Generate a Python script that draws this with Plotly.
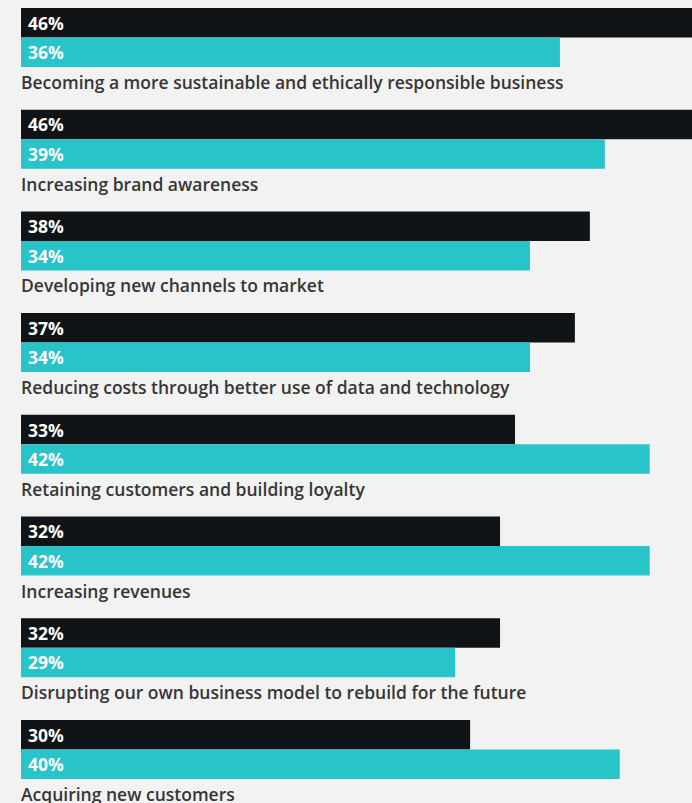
import plotly.graph_objects as go

categories = [
    "Becoming a more sustainable and ethically responsible business",
    "Increasing brand awareness",
    "Developing new channels to market",
    "Reducing costs through better use of data and technology",
    "Retaining customers and building loyalty",
    "Increasing revenues",
    "Disrupting our own business model to rebuild for the future",
    "Acquiring new customers",
]
series_dark = [46, 46, 38, 37, 33, 32, 32, 30]
series_teal = [36, 39, 34, 34, 42, 42, 29, 40]

W, H = 692, 803
LEFT = 21
PX_PER_PCT = 14.97
PITCH = 101.7
TOP = 8
BAR_H = 29.5

DARK = "#111416"
TEAL = "#29c3ca"
BG = "#f2f2f2"
LABEL = "#363636"
FONT = "Open Sans"

y_dark = [TOP + i * PITCH + BAR_H / 2 for i in range(len(categories))]
y_teal = [TOP + i * PITCH + BAR_H * 1.5 for i in range(len(categories))]
y_label = [TOP + i * PITCH + 74 for i in range(len(categories))]

fig = go.Figure()
fig.add_trace(go.Bar(x=series_dark, y=y_dark, orientation="h", width=BAR_H,
                     marker=dict(color=DARK, line=dict(width=0)), hoverinfo="skip"))
fig.add_trace(go.Bar(x=series_teal, y=y_teal, orientation="h", width=BAR_H,
                     marker=dict(color=TEAL, line=dict(width=0)), hoverinfo="skip"))

annotations = []
for vals, ys in ((series_dark, y_dark), (series_teal, y_teal)):
    for v, y in zip(vals, ys):
        annotations.append(dict(x=0, y=y, xref="x", yref="y", text=f"{v}%",
                                showarrow=False, xanchor="left", yanchor="middle",
                                xshift=5, font=dict(family=FONT, size=17.5, color="white",
                                                    weight="bold")))
for c, y in zip(categories, y_label):
    annotations.append(dict(x=0, y=y, xref="x", yref="y", text=c, showarrow=False,
                            xanchor="left", yanchor="middle", xshift=-2,
                            font=dict(family=FONT, size=17.5, color=LABEL, weight=600)))

fig.update_layout(
    width=W, height=H,
    margin=dict(l=LEFT, r=0, t=0, b=0),
    paper_bgcolor=BG, plot_bgcolor=BG,
    showlegend=False, barmode="overlay",
    xaxis=dict(range=[0, (W - LEFT) / PX_PER_PCT], visible=False, fixedrange=True),
    yaxis=dict(range=[H, 0], visible=False, fixedrange=True),
    annotations=annotations,
)

fig.write_html("out.html", config={"displayModeBar": False})
